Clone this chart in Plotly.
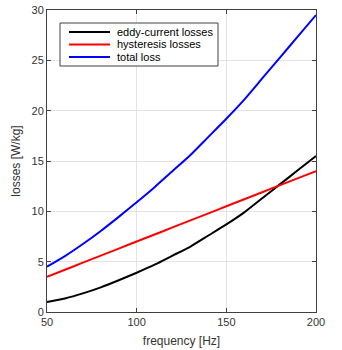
import plotly.graph_objects as go

freq = [50, 60, 70, 80, 90, 100, 110, 120, 130, 140, 150, 160, 170, 180, 190, 200]
eddy = [1.0, 1.35, 1.85, 2.45, 3.15, 3.9, 4.7, 5.6, 6.5, 7.6, 8.7, 9.9, 11.3, 12.7, 14.1, 15.5]
hyst = [3.5, 4.2, 4.9, 5.6, 6.3, 7.0, 7.7, 8.4, 9.1, 9.8, 10.5, 11.2, 11.9, 12.6, 13.3, 14.0]
total = [e + h for e, h in zip(eddy, hyst)]

names = ["eddy-current losses", "hysteresis losses", "total loss"]
colors = ["#000000", "#ff0000", "#0000ff"]

W, H = 342, 350
L, R, T, B = 47, 26, 10, 38
pw, ph = W - L - R, H - T - B


def px(x):
    return (x - L) / pw


def py(y):
    return (H - B - y) / ph


fig = go.Figure()
for ys, n, c in zip([eddy, hyst, total], names, colors):
    fig.add_trace(go.Scatter(x=freq, y=ys, mode="lines", name=n,
                             line=dict(color=c, width=2, shape="spline", smoothing=0.6),
                             showlegend=False))

# manual legend (compact, MATLAB-like)
shapes = [dict(type="rect", xref="paper", yref="paper",
               x0=px(60), x1=px(218), y0=py(66), y1=py(23),
               line=dict(color="#404040", width=1), fillcolor="white", layer="above")]
annotations = []
rows = [32, 44.5, 57]
for n, c, yy in zip(names, colors, rows):
    shapes.append(dict(type="line", xref="paper", yref="paper",
                       x0=px(69), x1=px(110), y0=py(yy), y1=py(yy),
                       line=dict(color=c, width=2), layer="above"))
    annotations.append(dict(xref="paper", yref="paper", x=px(115), y=py(yy),
                            text=n, showarrow=False, xanchor="left", yanchor="middle",
                            font=dict(size=11, color="#000000")))

axis_common = dict(showline=True, mirror="ticks", linecolor="#404040", linewidth=1,
                   showgrid=True, gridcolor="#e3e3e3", gridwidth=1,
                   ticks="inside", ticklen=4, tickcolor="#404040", zeroline=False,
                   tickfont=dict(size=11, color="#333333"), automargin=False)

fig.update_layout(
    width=W, height=H,
    margin=dict(l=L, r=R, t=T, b=B, autoexpand=False),
    paper_bgcolor="white", plot_bgcolor="white",
    font=dict(family="Liberation Sans, Arial, sans-serif", size=11, color="#333333"),
    xaxis=dict(range=[50, 200], tickvals=[50, 100, 150, 200],
               title=dict(text="frequency [Hz]", standoff=9, font=dict(size=12)),
               **axis_common),
    yaxis=dict(range=[0, 30], tickvals=[0, 5, 10, 15, 20, 25, 30],
               title=dict(text="losses [W/kg]", standoff=8, font=dict(size=12)),
               **axis_common),
    shapes=shapes,
    annotations=annotations,
    showlegend=False,
)

fig.write_html("out.html")
